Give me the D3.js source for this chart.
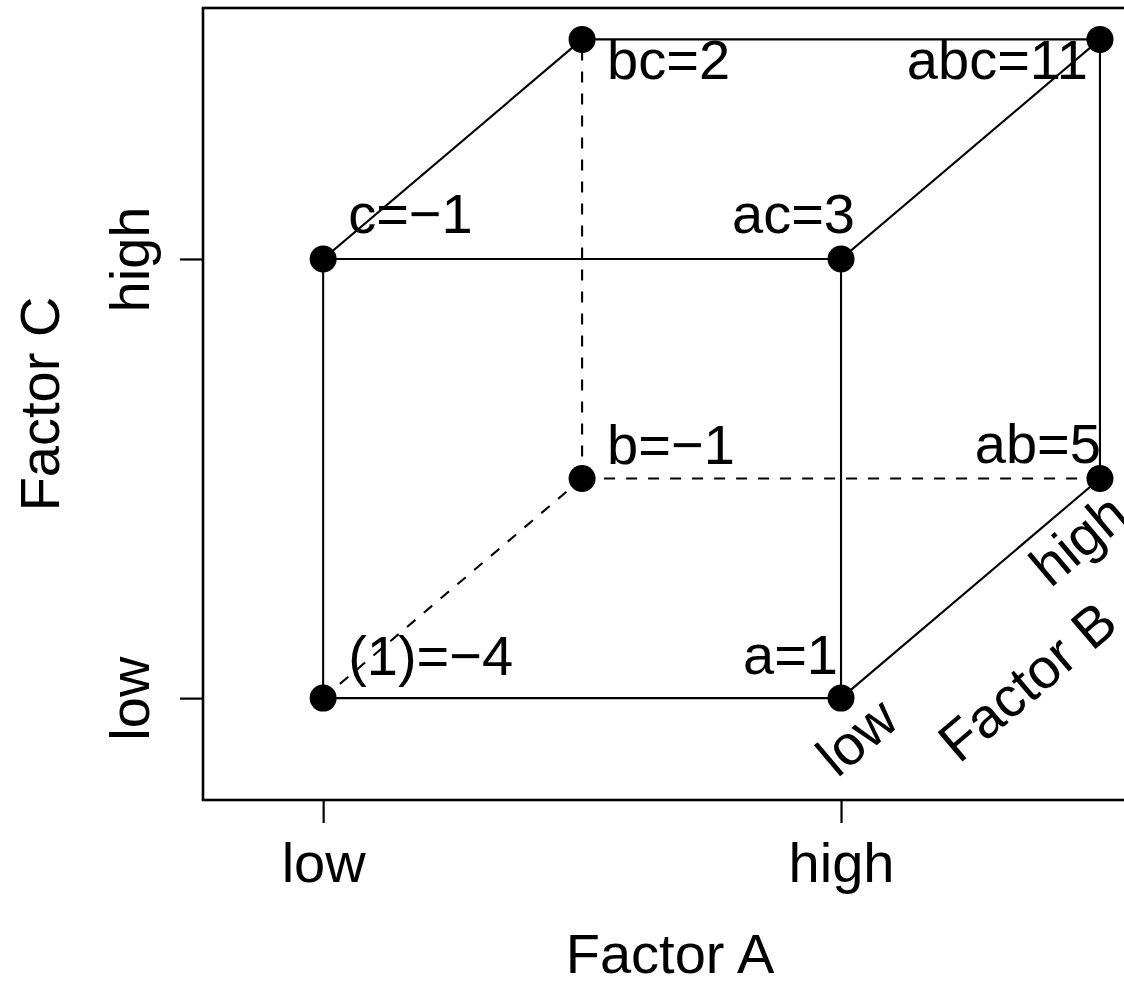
<!DOCTYPE html>
<html>
<head>
<meta charset="utf-8">
<script src="https://cdn.jsdelivr.net/npm/d3@7"></script>
<style>
  html, body { margin: 0; padding: 0; background: #fff; }
  svg { display: block; }
  text { font-family: "Liberation Sans", Arial, Helvetica, sans-serif; fill: #000; }
</style>
</head>
<body>
<script>
// 2^3 factorial design: runs in standard order and their responses
const runs      = ["(1)", "a", "b", "ab", "c", "ac", "bc", "abc"];
const levelA    = [-1, 1, -1, 1, -1, 1, -1, 1];
const levelB    = [-1, -1, 1, 1, -1, -1, 1, 1];
const levelC    = [-1, -1, -1, -1, 1, 1, 1, 1];
const responses = [-4, 1, -1, 5, -1, 3, 2, 11];

// level names used on the axes
const levelValues = [-1, 1];
const levelNames  = ["low", "high"];
const factorNames = ["Factor A", "Factor B", "Factor C"];

// run whose corner is hidden behind the cube (its edges are dashed)
const hiddenRun = "b";

const W = 1124, H = 983;
const box = { left: 203, right: 1137, top: 8, bottom: 800 };
const usr = [-1.464, 2.143];
const FS = 56;

const svg = d3.select("body").append("svg")
  .attr("width", W).attr("height", H)
  .attr("viewBox", `0 0 ${W} ${H}`);
svg.append("rect").attr("width", W).attr("height", H).attr("fill", "#fff");

const x = d3.scaleLinear().domain(usr).range([box.left, box.right]);
const y = d3.scaleLinear().domain(usr).range([box.bottom, box.top]);

// oblique projection: factor B shifts a corner up and to the right
const shift = b => (b + 1) / 2;
const px = i => x(levelA[i] + shift(levelB[i]));
const py = i => y(levelC[i] + shift(levelB[i]));

// cube edges: corners that differ in exactly one factor
const edges = [];
runs.forEach((r, i) => runs.forEach((s, j) => {
  if (j <= i) return;
  const diff = (levelA[i] !== levelA[j]) + (levelB[i] !== levelB[j]) + (levelC[i] !== levelC[j]);
  if (diff === 1) edges.push({ i, j, hidden: r === hiddenRun || s === hiddenRun });
}));

// label placement (offsets in px from the corner)
const labelStyle = {
  "(1)": { dx: 25,  dy: -23, anchor: "start" },
  "a":   { dx: -3,  dy: -24, anchor: "end" },
  "b":   { dx: 25,  dy: -15, anchor: "start" },
  "ab":  { dx: 1,   dy: -16, anchor: "end" },
  "c":   { dx: 25,  dy: -26, anchor: "start" },
  "ac":  { dx: 14,  dy: -26, anchor: "end" },
  "bc":  { dx: 25,  dy: 40,  anchor: "start" },
  "abc": { dx: -12, dy: 40,  anchor: "end" }
};

// plot frame
svg.append("rect")
  .attr("x", box.left).attr("y", box.top)
  .attr("width", box.right - box.left).attr("height", box.bottom - box.top)
  .attr("fill", "none").attr("stroke", "#000").attr("stroke-width", 2.6);

// axes
const xAxis = svg.append("g")
  .attr("transform", `translate(0,${box.bottom})`)
  .call(d3.axisBottom(x).tickValues(levelValues).tickSize(23)
    .tickFormat((d, k) => levelNames[k]));
xAxis.select(".domain").remove();
xAxis.selectAll(".tick line").attr("stroke", "#000").attr("stroke-width", 2.2);
xAxis.selectAll(".tick text")
  .attr("y", 82).attr("dy", 0)
  .attr("font-size", FS).attr("font-family", null).attr("fill", "#000");

const yAxis = svg.append("g")
  .attr("transform", `translate(${box.left},0)`)
  .call(d3.axisLeft(y).tickValues(levelValues).tickSize(23)
    .tickFormat((d, k) => levelNames[k]));
yAxis.select(".domain").remove();
yAxis.selectAll(".tick line").attr("stroke", "#000").attr("stroke-width", 2.2);
yAxis.selectAll(".tick text")
  .attr("transform", "rotate(-90)")
  .attr("x", 0).attr("y", -54).attr("dy", 0)
  .attr("text-anchor", "middle")
  .attr("font-size", FS).attr("font-family", null).attr("fill", "#000");

// axis titles
svg.append("text")
  .attr("x", (box.left + box.right) / 2).attr("y", 973)
  .attr("text-anchor", "middle").attr("font-size", FS)
  .text(factorNames[0]);
svg.append("text")
  .attr("transform", `translate(59,${(box.top + box.bottom) / 2}) rotate(-90)`)
  .attr("text-anchor", "middle").attr("font-size", FS)
  .text(factorNames[2]);

// corner labels
const g = svg.append("g");
runs.forEach((r, i) => {
  const st = labelStyle[r];
  g.append("text")
    .attr("x", px(i) + st.dx).attr("y", py(i) + st.dy)
    .attr("text-anchor", st.anchor).attr("font-size", FS)
    .text(`${r}=${String(responses[i]).replace("-", "\u2212")}`);
});

// edges
g.selectAll("line.edge").data(edges).join("line")
  .attr("class", "edge")
  .attr("x1", e => px(e.i)).attr("y1", e => py(e.i))
  .attr("x2", e => px(e.j)).attr("y2", e => py(e.j))
  .attr("stroke", "#000").attr("stroke-width", 2.1)
  .attr("stroke-dasharray", e => e.hidden ? "11,11" : null);

// corners
g.selectAll("circle").data(runs).join("circle")
  .attr("cx", (d, i) => px(i)).attr("cy", (d, i) => py(i))
  .attr("r", 13.5).attr("fill", "#000");

// factor B labels along the receding edge from a to ab
const i0 = runs.indexOf("a"), i1 = runs.indexOf("ab");
const ex = px(i1) - px(i0), ey = py(i1) - py(i0);
const len = Math.hypot(ex, ey);
const ang = Math.atan2(ey, ex) * 180 / Math.PI;
const bAxis = svg.append("g")
  .attr("transform", `translate(${px(i0)},${py(i0)}) rotate(${ang})`);
const bLabels = [
  { text: levelNames[0], along: -13,           perp: 59 },
  { text: levelNames[1], along: len - 56,      perp: 52 },
  { text: factorNames[1], along: len / 2 - 17, perp: 127 }
];
bAxis.selectAll("text").data(bLabels).join("text")
  .attr("x", d => d.along).attr("y", d => d.perp)
  .attr("text-anchor", "middle").attr("font-size", FS)
  .text(d => d.text);
</script>
</body>
</html>
